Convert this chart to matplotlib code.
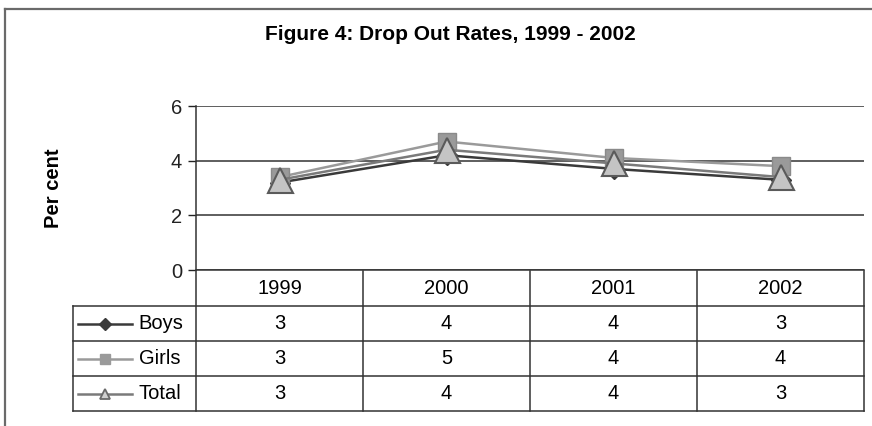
import matplotlib
matplotlib.use("Agg")
import matplotlib.pyplot as plt
from matplotlib.lines import Line2D

# Drop-out rates (per cent) by year
years = ["1999", "2000", "2001", "2002"]
boys = [3.2, 4.2, 3.7, 3.3]
girls = [3.4, 4.7, 4.1, 3.8]
total = [3.3, 4.4, 3.9, 3.4]
series_names = ["Boys", "Girls", "Total"]
y_ticks = [0, 2, 4, 6]

plt.rcParams["font.family"] = ["Liberation Sans", "DejaVu Sans"]

W, H = 872, 426
fig = plt.figure(figsize=(W / 100, H / 100), dpi=100)

# figure frame (top and left edges visible)
fig.add_artist(Line2D([5 / W, 5 / W], [0, 1 - 9 / H], transform=fig.transFigure,
                      color="#6a6a6a", lw=1.6))
fig.add_artist(Line2D([5 / W, 1], [1 - 9 / H, 1 - 9 / H], transform=fig.transFigure,
                      color="#6a6a6a", lw=1.6))

fig.text(450 / W, 1 - 34 / H, "Figure 4: Drop Out Rates, 1999 - 2002",
         ha="center", va="center", fontsize=15, fontweight="bold")

# plot area
px_left, px_right, px_top, px_bottom = 196, 864, 106, 270
ax = fig.add_axes([px_left / W, 1 - px_bottom / H, (px_right - px_left) / W,
                   (px_bottom - px_top) / H])
x = list(range(len(years)))
ax.set_xlim(-0.5, len(years) - 0.5)
ax.set_ylim(0, 6)
ax.set_yticks(y_ticks)
ax.tick_params(axis="y", direction="out", length=6, width=1, colors="#222",
               labelsize=14.5, pad=4)
ax.set_xticks([])
for s in ["top", "right"]:
    ax.spines[s].set_visible(False)
ax.spines["left"].set_color("#333")
ax.spines["bottom"].set_color("#333")
ax.spines["left"].set_linewidth(1.1)
ax.spines["bottom"].set_linewidth(1.1)
ax.yaxis.grid(True, color="#333", lw=1.1)
ax.set_axisbelow(True)
ax.set_ylabel("Per cent", fontsize=14.5, fontweight="bold")
ax.yaxis.set_label_coords(-0.199, 0.5)

styles = {
    "Boys": dict(color="#3a3a3a", marker="D", ms=10, mfc="#3a3a3a", mec="#3a3a3a"),
    "Girls": dict(color="#9a9a9a", marker="s", ms=13, mfc="#9a9a9a", mec="#8a8a8a"),
    "Total": dict(color="#7a7a7a", marker="^", ms=18, mfc="#c4c4c4", mec="#5a5a5a",
                  mew=1.5),
}
data = {"Boys": boys, "Girls": girls, "Total": total}
for i, name in enumerate(series_names):
    ax.plot(x, data[name], lw=1.8, clip_on=False, zorder=3 + i, **styles[name])

# data table below the plot area
tb_left, tb_top, tb_bottom = 72.7, 270.5, 410.7
col_w = (px_right - px_left) / len(years)
lab_w = (px_left - tb_left) / col_w
tax = fig.add_axes([tb_left / W, 1 - tb_bottom / H, (px_right - tb_left) / W,
                    (tb_bottom - tb_top) / H])
x0 = -0.5 - lab_w
tax.set_xlim(x0, len(years) - 0.5)
tax.set_ylim(len(series_names) + 1, 0)
tax.axis("off")
lc, lw_t = "#333", 1.1
nrows = len(series_names) + 1
for r in range(1, nrows + 1):
    tax.plot([x0, len(years) - 0.5], [r, r], color=lc, lw=lw_t, clip_on=False)
tax.plot([x0, x0], [1, nrows], color=lc, lw=lw_t, clip_on=False)
for c in range(len(years) + 1):
    tax.plot([c - 0.5, c - 0.5], [0, nrows], color=lc, lw=lw_t, clip_on=False)

fs = 14.5
for c, yr in enumerate(years):
    tax.text(c, 0.52, yr, ha="center", va="center", fontsize=fs)

leg_styles = {
    "Boys": dict(color="#3a3a3a", marker="D", ms=6, mfc="#3a3a3a", mec="#3a3a3a"),
    "Girls": dict(color="#9a9a9a", marker="s", ms=7, mfc="#9a9a9a", mec="#9a9a9a"),
    "Total": dict(color="#7a7a7a", marker="^", ms=7, mfc="#d0d0d0", mec="#6a6a6a",
                  mew=1.3),
}
for r, name in enumerate(series_names):
    yr_c = r + 1.52
    lx0 = x0 + 5 / col_w
    lx1 = x0 + 59 / col_w
    tax.plot([lx0, lx1], [yr_c, yr_c], lw=1.8, color=leg_styles[name]["color"])
    tax.plot([(lx0 + lx1) / 2], [yr_c], lw=0, **{k: v for k, v in leg_styles[name].items()
                                                  if k != "color"})
    tax.text(x0 + 66 / col_w, yr_c, name, ha="left", va="center", fontsize=fs)
    for c, v in enumerate(data[name]):
        tax.text(c, yr_c, f"{v:.0f}", ha="center", va="center", fontsize=fs)

fig.savefig("out.png", dpi=100, facecolor="white")
